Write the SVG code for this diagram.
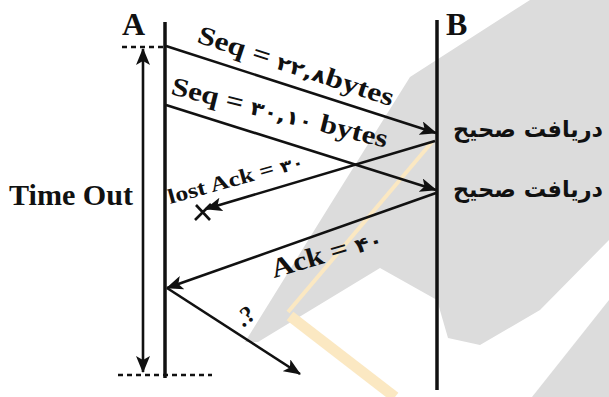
<svg xmlns="http://www.w3.org/2000/svg" width="609" height="397" viewBox="0 0 609 397">
<style>
.lbl{font-family:"Liberation Serif","DejaVu Serif",serif;font-weight:bold;fill:#111}
.dg{font-family:"DejaVu Sans",sans-serif;font-weight:bold}
.fa{font-family:"DejaVu Sans","Noto Sans",sans-serif;font-weight:bold;fill:#111}
.msg{stroke:#111;stroke-width:2.6;fill:none}
.life{stroke:#111;stroke-width:3.5}
.dash{stroke:#111;stroke-width:2.5;stroke-dasharray:5 4}
</style>
<defs>
<marker id="ah" markerUnits="userSpaceOnUse" markerWidth="18" markerHeight="14" refX="16" refY="7" orient="auto">
<path d="M0,0 L17,7 L0,14 L4,7 Z" fill="#111"/>
</marker>
<marker id="ahs" markerUnits="userSpaceOnUse" markerWidth="18" markerHeight="14" refX="16" refY="7" orient="auto-start-reverse">
<path d="M0,0 L17,7 L0,14 L4,7 Z" fill="#111"/>
</marker>
</defs>
<rect width="609" height="397" fill="#fff"/>
<g id="watermark">
<path d="M245,342 L330,205 L410,77 L530,0 L609,0 L609,240 L540,310 L480,345 L448,338 L437,300 L380,268 L258,342 Z" fill="#dcdcdc"/>
<path d="M532,397 L609,300 L609,397 Z" fill="#dcdcdc"/>
<path d="M432,142 L288,312" stroke="#fbe8c2" stroke-width="4"/>
<path d="M290,316 L395,397" stroke="#fbe8c2" stroke-width="11"/>
</g>
<g id="A">
<line class="life" x1="165" y1="22" x2="165" y2="378"/>
<text class="lbl" x="122" y="35" font-size="32">A</text>
</g>
<g id="B">
<line class="life" x1="437" y1="20" x2="437" y2="390"/>
<text class="lbl" x="446" y="35" font-size="32">B</text>
<text class="fa" x="453" y="137" font-size="23" textLength="150" lengthAdjust="spacingAndGlyphs">دریافت صحیح</text>
<text class="fa" x="453" y="197" font-size="23" textLength="150" lengthAdjust="spacingAndGlyphs">دریافت صحیح</text>
</g>
<g id="timeout">
<line class="dash" x1="122" y1="47" x2="165" y2="47"/>
<line class="dash" x1="118" y1="375" x2="212" y2="375"/>
<line class="msg" x1="143" y1="49" x2="143" y2="372" marker-start="url(#ahs)" marker-end="url(#ah)"/>
<text class="lbl" x="9" y="205" font-size="29" textLength="124" lengthAdjust="spacingAndGlyphs">Time Out</text>
</g>
<g id="connectors">
<line class="msg" x1="166" y1="46" x2="436" y2="133" marker-end="url(#ah)"/>
<line class="msg" x1="166" y1="105" x2="436" y2="190" marker-end="url(#ah)"/>
<line class="msg" x1="435" y1="141" x2="206" y2="209" marker-end="url(#ah)"/>
<line class="msg" x1="436" y1="193" x2="167" y2="288" marker-end="url(#ah)"/>
<line class="msg" x1="167" y1="288" x2="300" y2="374" marker-end="url(#ah)"/>
<path d="M196,205 L210,220 M195,220 L211,204" stroke="#111" stroke-width="2.6"/>
</g>
<g id="labels">
<text class="lbl" font-size="26" transform="translate(196,42) rotate(18.3)" textLength="205" lengthAdjust="spacingAndGlyphs">Seq = <tspan class="dg" font-size="19">۲۲,۸</tspan>bytes</text>
<text class="lbl" font-size="26" transform="translate(170,94) rotate(14)" textLength="222" lengthAdjust="spacingAndGlyphs">Seq = <tspan class="dg" font-size="19">۳۰,۱۰</tspan> bytes</text>
<text class="lbl" font-size="21" transform="translate(170,204) rotate(-15.4)" textLength="140" lengthAdjust="spacingAndGlyphs">lost Ack = <tspan class="dg" font-size="16">۳۰</tspan></text>
<text class="lbl" font-size="27" transform="translate(274,278) rotate(-16.4)" textLength="115" lengthAdjust="spacingAndGlyphs">Ack = <tspan class="dg" font-size="20">۴۰</tspan></text>
<text class="lbl" font-size="24" transform="translate(243,328) rotate(-38)">.?</text>
</g>
</svg>
